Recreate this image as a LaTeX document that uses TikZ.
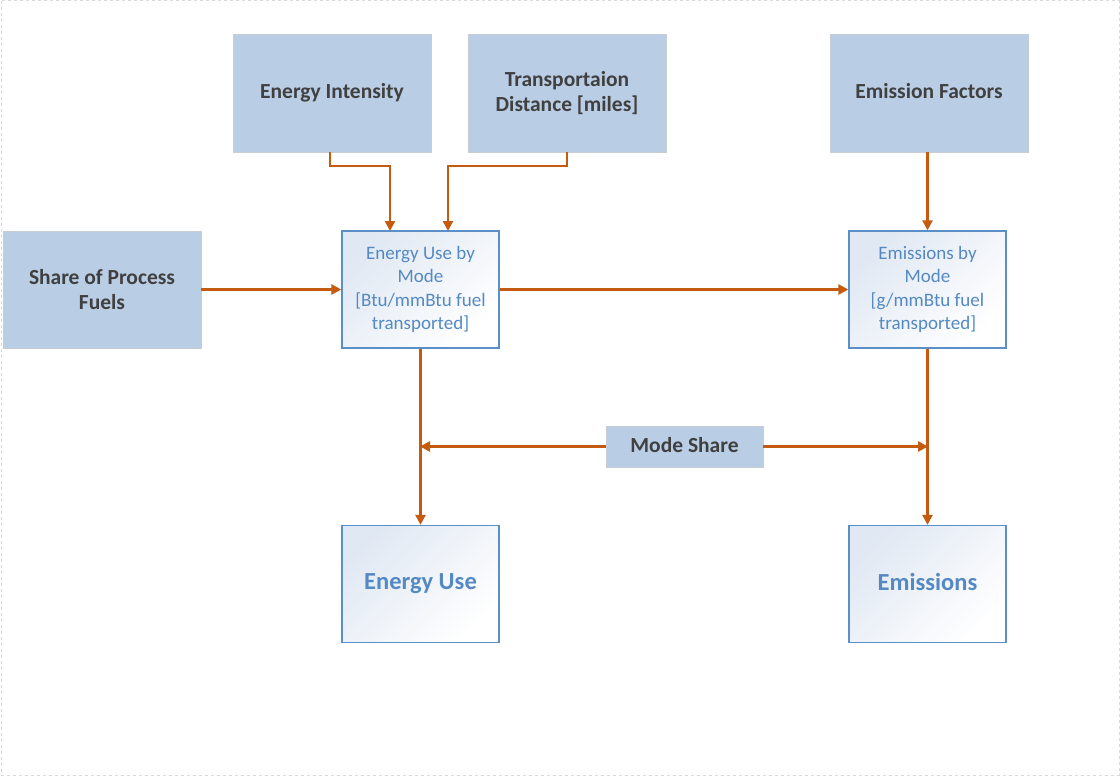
\documentclass[tikz,border=0pt]{standalone}
\usepackage{fontspec}
\setmainfont{Carlito}
\usetikzlibrary{arrows.meta}
\definecolor{fillblue}{HTML}{B9CDE5}
\definecolor{boxedge}{HTML}{C8CDD3}
\definecolor{darktext}{HTML}{404040}
\definecolor{blueedge}{HTML}{5B8FC8}
\definecolor{bluetext}{HTML}{5489C3}
\definecolor{paleblue}{HTML}{E0E8F3}
\definecolor{arrowc}{HTML}{C55A11}
\definecolor{frame}{HTML}{D9D9D9}
\tikzset{
  inbox/.style={draw=boxedge, line width=0.8pt, fill=fillblue, text=darktext,
    font=\fontsize{21.5}{24.5}\selectfont\bfseries, align=center, inner sep=0pt,
    minimum width=198pt, minimum height=118pt},
  calcbox/.style={draw=blueedge, line width=1.3pt, left color=paleblue, right color=white, shading angle=45,
    text=bluetext, font=\fontsize{19}{23.5}\selectfont, align=center, inner sep=0pt,
    minimum width=157pt, minimum height=117pt},
  outbox/.style={calcbox, font=\fontsize{24.5}{26}\selectfont\bfseries},
  flow/.style={draw=arrowc, line width=2.6pt, -{Triangle[length=10pt,width=10pt]}},
}
\begin{document}
\begin{tikzpicture}[x=1pt,y=-1pt]
\useasboundingbox (0,0) rectangle (1120,776);
\draw[frame, dashed, line width=1pt] (1,1) rectangle (1119,775);
% input boxes
\node[inbox] (ei) at (332,93) {Energy Intensity};
\node[inbox] (td) at (567,93) {Transportaion\\Distance [miles]};
\node[inbox] (ef) at (929,93) {Emission Factors\vphantom{gy}};
\node[inbox, minimum height=117pt] (sp) at (102,289.5) {Share of Process\\Fuels};
\node[inbox, minimum width=157pt, minimum height=41pt] (ms) at (684.5,446.5) {Mode Share\vphantom{gy}};
% calc boxes
\node[calcbox] (eu) at (420.5,289.5) {Energy Use by\\Mode\\{[}Btu/mmBtu fuel\\transported{]}};
\node[calcbox] (em) at (927.5,289.5) {Emissions by\\Mode\\{[}g/mmBtu fuel\\transported{]}};
\node[outbox] (euo) at (420.5,584) {Energy Use};
\node[outbox] (emo) at (927.5,584) {Emissions\vphantom{gy}};
% coordinates
\coordinate (eiA) at (330,152);
\coordinate (eiB) at (390,231);
\coordinate (tdA) at (567,152);
\coordinate (tdB) at (448,231);
\coordinate (ms1) at (420,446.5);
\coordinate (ms2) at (928,446.5);
% connectors
\draw[flow] (eiA) |- (360,166) -| (eiB);
\draw[flow] (tdA) |- (500,166) -| (tdB);
\draw[flow] (ef.south -| em.north) -- (em.north);
\draw[flow] (sp.east) -- (eu.west);
\draw[flow] (eu.east) -- (em.west);
\draw[flow] (eu.south) -- (euo.north);
\draw[flow] (em.south) -- (emo.north);
\draw[flow] (ms.west) -- (ms1);
\draw[flow] (ms.east) -- (ms2);
\end{tikzpicture}
\end{document}
